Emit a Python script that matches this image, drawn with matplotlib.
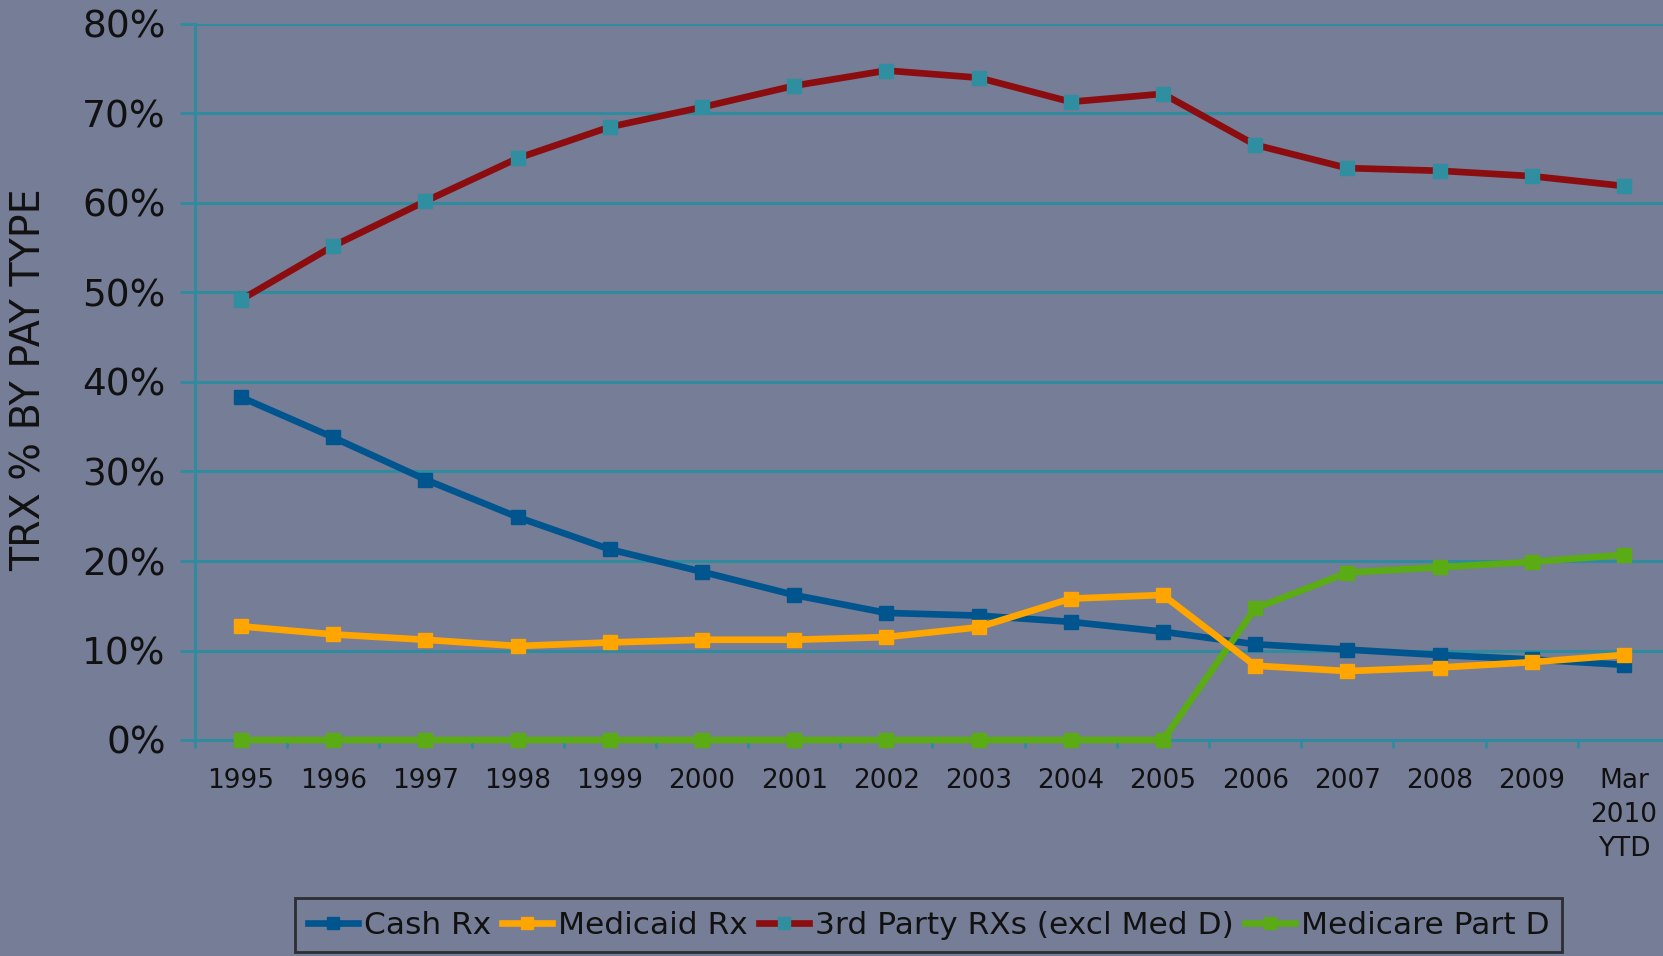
import matplotlib
matplotlib.use('Agg')
from matplotlib import pyplot as plt
from matplotlib.ticker import FixedLocator, FuncFormatter

years = ['1995', '1996', '1997', '1998', '1999', '2000', '2001', '2002',
         '2003', '2004', '2005', '2006', '2007', '2008', '2009', 'Mar\n2010\nYTD']

cash_rx = [38.3, 33.8, 29.1, 24.9, 21.3, 18.8, 16.2, 14.2,
           13.9, 13.2, 12.1, 10.7, 10.1, 9.5, 9.0, 8.4]
medicaid_rx = [12.7, 11.8, 11.2, 10.5, 10.9, 11.2, 11.2, 11.5,
               12.6, 15.8, 16.2, 8.3, 7.7, 8.1, 8.7, 9.5]
third_party = [49.2, 55.2, 60.2, 65.0, 68.5, 70.7, 73.1, 74.8,
               74.0, 71.3, 72.2, 66.5, 63.9, 63.6, 63.0, 61.9]
medicare_d = [0, 0, 0, 0, 0, 0, 0, 0,
              0, 0, 0, 14.7, 18.7, 19.3, 19.9, 20.7]

bg = '#767d96'
grid_c = '#2e8c9e'

plt.rcParams['font.family'] = ['DejaVu Sans']

fig = plt.figure(figsize=(16.63, 9.56), dpi=100, facecolor=bg)
ax = fig.add_axes([195/1663, 1 - 740/956, (1670 - 195)/1663, (740 - 24)/956])
ax.set_facecolor(bg)

x = list(range(len(years)))
lw = 4.8
ms = 10
ax.plot(x, cash_rx, color='#00558f', lw=lw, marker='s', ms=ms, label='Cash Rx', zorder=3)
ax.plot(x, medicaid_rx, color='#ffa500', lw=lw, marker='s', ms=ms, label='Medicaid Rx', zorder=4)
ax.plot(x, third_party, color='#8b0d0f', lw=lw, marker='s', ms=ms,
        mfc='#2f8fa0', mec='#2f8fa0', label='3rd Party RXs (excl Med D)', zorder=3)
ax.plot(x, medicare_d, color='#5aab14', lw=lw, marker='s', ms=ms,
        label='Medicare Part D', zorder=3, clip_on=False)

ax.set_xlim(-0.5, len(years) - 0.5)
ax.set_ylim(0, 80)
ax.set_yticks(range(0, 81, 10))
ax.yaxis.set_major_formatter(FuncFormatter(lambda v, p: '%d%%' % v))
ax.grid(axis='y', color=grid_c, lw=2.2, zorder=1)
ax.set_axisbelow(True)

ax.set_xticks(x)
ax.set_xticklabels(years, fontsize=19, linespacing=1.4, color='#111111')
ax.xaxis.set_minor_locator(FixedLocator([i + 0.5 for i in range(-1, len(years))]))
ax.tick_params(axis='x', which='major', length=0, pad=20)
ax.tick_params(axis='x', which='minor', length=6, width=2, color=grid_c, direction='out')
ax.tick_params(axis='y', length=11, width=2, color=grid_c, labelsize=27,
               labelcolor='#111111', pad=10)

for s in ['top', 'right']:
    ax.spines[s].set_visible(False)
ax.spines['left'].set_color(grid_c)
ax.spines['left'].set_linewidth(2.2)
ax.spines['bottom'].set_color(grid_c)
ax.spines['bottom'].set_linewidth(2.2)

fig.text(30/1663, 1 - 380/956, 'TRX % BY PAY TYPE', rotation=90, fontsize=28.5,
         color='#111111', ha='center', va='center')

leg = fig.legend(loc='upper left', bbox_to_anchor=(295/1663, 1 - 898/956), ncol=4,
                 fontsize=22.5, frameon=True, fancybox=False, handlelength=1.6,
                 handletextpad=0.2, columnspacing=0.35, borderpad=0.4,
                 borderaxespad=0, markerscale=0.9)
leg.get_frame().set_facecolor(bg)
leg.get_frame().set_edgecolor('#1a1a1a')
leg.get_frame().set_linewidth(2)
for t in leg.get_texts():
    t.set_color('#111111')

plt.savefig('out.png', dpi=100, facecolor=bg)
